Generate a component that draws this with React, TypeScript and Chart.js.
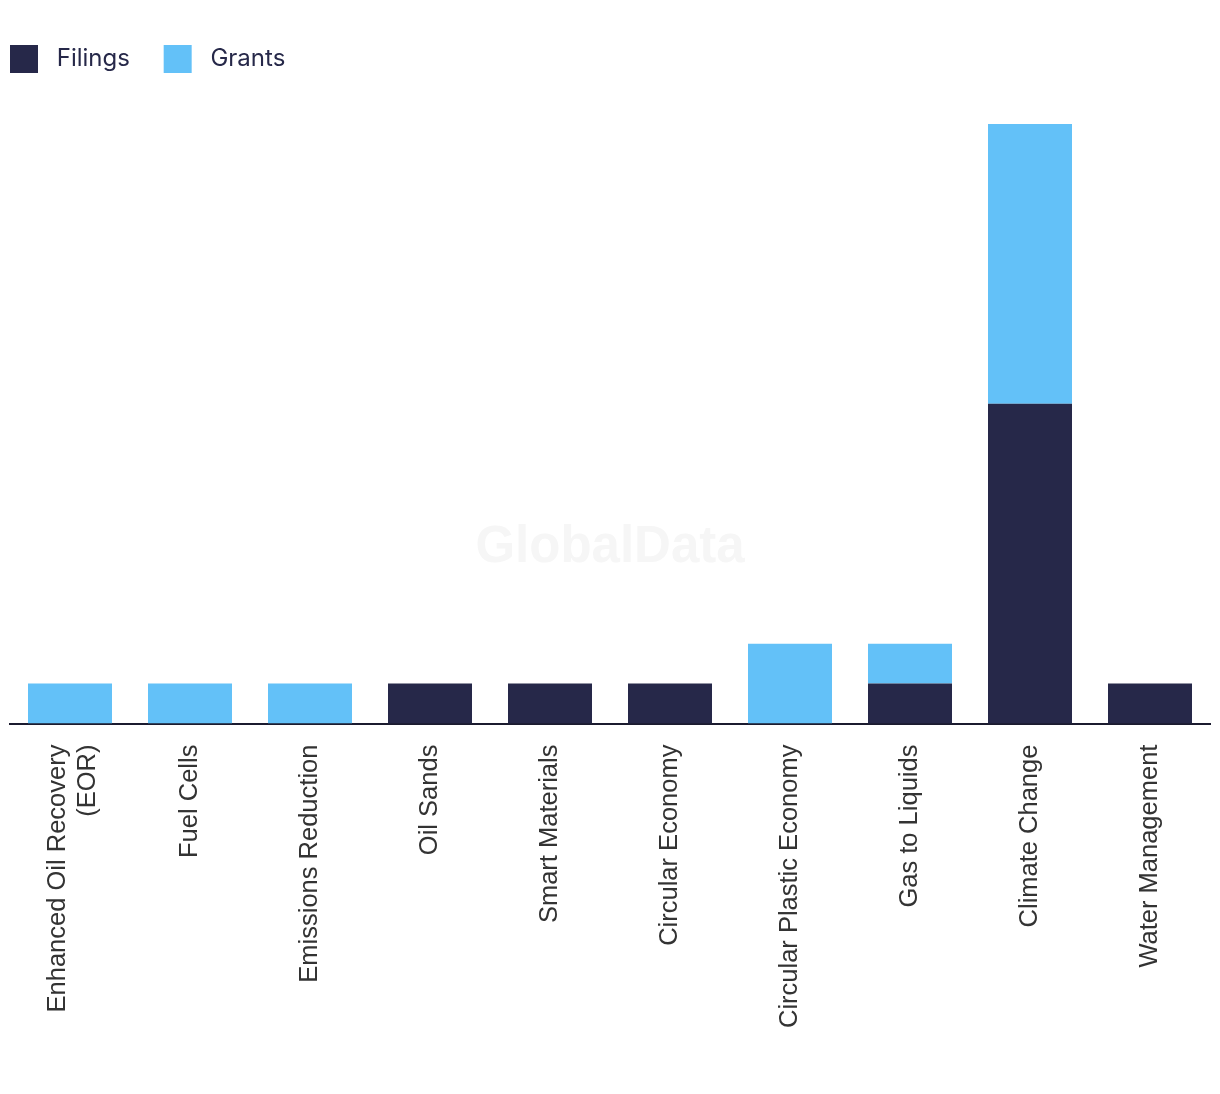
import React, { useEffect, useRef } from "react";
import { Chart, registerables } from "chart.js";

Chart.register(...registerables);

const categories: (string | string[])[] = [
  ["Enhanced Oil Recovery", "(EOR)"],
  "Fuel Cells",
  "Emissions Reduction",
  "Oil Sands",
  "Smart Materials",
  "Circular Economy",
  "Circular Plastic Economy",
  "Gas to Liquids",
  "Climate Change",
  "Water Management",
];

const seriesNames = ["Filings", "Grants"];
const filings = [0, 0, 0, 1, 1, 1, 0, 1, 8, 1];
const grants = [1, 1, 1, 0, 0, 0, 2, 1, 7, 0];

const DARK = "#262849";
const LIGHT = "#63c1f8";

const watermark = {
  id: "watermark",
  beforeDatasetsDraw(chart: any) {
    const ctx = chart.ctx;
    const { left, right } = chart.chartArea;
    ctx.save();
    ctx.font = "bold 51px 'Liberation Sans', Arial, sans-serif";
    ctx.fillStyle = "#f6f6f6";
    ctx.textAlign = "center";
    ctx.textBaseline = "middle";
    ctx.fillText("GlobalData", (left + right) / 2, 548);
    ctx.restore();
  },
};

const legendSpacing = {
  id: "legendSpacing",
  beforeInit(chart: any) {
    const legend = chart.legend;
    if (!legend) return;
    const origFit = legend.fit;
    legend.fit = function () {
      origFit.call(this);
      this.height = 79;
    };
  },
};

// centre multi-line rotated tick labels on their bar
const centerMultiline = {
  id: "centerMultiline",
  beforeDraw(chart: any) {
    const scale = chart.scales.x;
    if (!scale) return;
    const items = scale.getLabelItems(chart.chartArea);
    items.forEach((it: any) => {
      if (Array.isArray(it.label) && it.label.length > 1 && !it._centered) {
        const lh = it.font && it.font.lineHeight ? it.font.lineHeight : 30;
        it.textOffset -= ((it.label.length - 1) * lh) / 2 - 3;
        it._centered = true;
      }
    });
  },
};

export default function App() {
  const ref = useRef<HTMLCanvasElement | null>(null);

  useEffect(() => {
    document.body.style.margin = "0";
    const canvas = ref.current;
    if (!canvas) return;
    const chart = new Chart(canvas, {
      type: "bar",
      data: {
        labels: categories,
        datasets: [
          {
            label: seriesNames[0],
            data: filings,
            backgroundColor: DARK,
            borderWidth: 0,
          },
          {
            label: seriesNames[1],
            data: grants,
            backgroundColor: LIGHT,
            borderWidth: 0,
          },
        ],
      },
      options: {
        responsive: false,
        animation: false,
        maintainAspectRatio: false,
        layout: { padding: { top: 45, left: 10, right: 10, bottom: 53 } },
        datasets: {
          bar: { categoryPercentage: 1, barPercentage: 0.7 },
        },
        plugins: {
          legend: {
            position: "top",
            align: "start",
            labels: {
              boxWidth: 28,
              boxHeight: 28,
              padding: 0,
              color: DARK,
              font: { family: "Inter, 'Noto Sans', sans-serif", size: 24 },
              generateLabels(chart: any) {
                return chart.data.datasets.map((ds: any, i: number) => ({
                  text: " " + ds.label + (i === 0 ? "     " : ""),
                  fillStyle: ds.backgroundColor,
                  strokeStyle: ds.backgroundColor,
                  lineWidth: 0,
                  hidden: false,
                  datasetIndex: i,
                  fontColor: DARK,
                }));
              },
            },
          },
          tooltip: { enabled: false },
        },
        scales: {
          x: {
            stacked: true,
            grid: { display: false },
            border: { display: true, color: "#1b1b2f", width: 2 },
            ticks: {
              autoSkip: false,
              minRotation: 90,
              maxRotation: 90,
              padding: 13,
              color: "#333333",
              font: { family: "'Liberation Sans', Arial, sans-serif", size: 25.5 },
            },
          },
          y: {
            stacked: true,
            display: false,
            min: 0,
            max: 15,
          },
        },
      },
      plugins: [watermark, legendSpacing, centerMultiline],
    });
    return () => chart.destroy();
  }, []);

  return (
    <div style={{ width: 1220, height: 1094 }}>
      <canvas ref={ref} width={1220} height={1094} />
    </div>
  );
}
